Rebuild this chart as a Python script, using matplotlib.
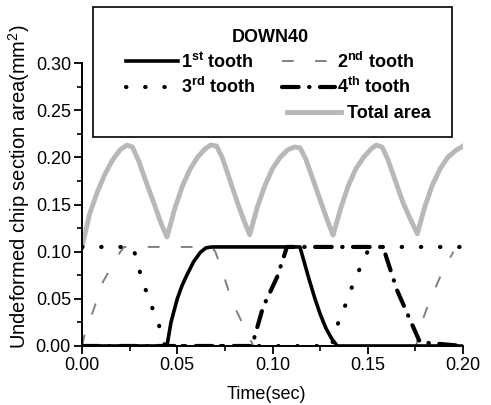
import matplotlib
matplotlib.use("Agg")
import matplotlib.pyplot as plt
from matplotlib.patches import Rectangle
from matplotlib.ticker import MultipleLocator

plt.rcParams['font.family'] = ['Liberation Sans', 'DejaVu Sans']
plt.rcParams['mathtext.fontset'] = 'custom'
plt.rcParams['mathtext.rm'] = 'Liberation Sans'
plt.rcParams['mathtext.bf'] = 'Liberation Sans:bold'

# values (time in sec, area in mm^2)
tooth1_t = [0.000, 0.0446, 0.0467, 0.0500, 0.0525, 0.0550, 0.0585, 0.0620, 0.0650, 0.0680,
            0.1144, 0.1165, 0.1190, 0.1223, 0.1250, 0.1280, 0.1310, 0.1340, 0.2000]
tooth1_v = [0.0, 0.0, 0.025, 0.050, 0.064, 0.075, 0.089, 0.099, 0.104, 0.105,
            0.105, 0.090, 0.072, 0.050, 0.034, 0.019, 0.008, 0.0, 0.0]

tooth2_t = [0.000, 0.0016, 0.006, 0.011, 0.019, 0.022, 0.068, 0.070, 0.074, 0.079, 0.0866, 0.090,
            0.1755, 0.1774, 0.1827, 0.1895, 0.1950]
tooth2_v = [0.0, 0.014, 0.038, 0.068, 0.0965, 0.105, 0.105, 0.100, 0.077, 0.046, 0.014, 0.0,
            0.0, 0.020, 0.049, 0.080, 0.100]

tooth3_t = [0.000, 0.0268, 0.030, 0.0331, 0.0368, 0.0404, 0.0436, 0.131, 0.134, 0.138, 0.1417,
            0.146, 0.151, 0.200]
tooth3_v = [0.105, 0.105, 0.081, 0.0615, 0.041, 0.022, 0.0, 0.0, 0.022, 0.042, 0.0625,
            0.083, 0.105, 0.105]

tooth4_t = [0.000, 0.0892, 0.095, 0.1024, 0.1076, 0.158, 0.1654, 0.1706, 0.1774, 0.200]
tooth4_v = [0.0, 0.0, 0.041, 0.073, 0.105, 0.105, 0.059, 0.035, 0.004, 0.0]

total_t = [0.000, 0.004, 0.008, 0.012, 0.016, 0.020, 0.0235, 0.0265, 0.030, 0.034, 0.038, 0.0415, 0.0446,
           0.0486, 0.0526, 0.0566, 0.0606, 0.0646, 0.0676, 0.0706, 0.0736, 0.0776, 0.0816, 0.0850, 0.0880,
           0.0920, 0.0960, 0.1000, 0.1040, 0.1080, 0.1115, 0.1145, 0.1175, 0.1215, 0.1255, 0.1290, 0.1318,
           0.1358, 0.1398, 0.1438, 0.1478, 0.1518, 0.1545, 0.1575, 0.1605, 0.1645, 0.1685, 0.1725, 0.1760,
           0.1800, 0.1840, 0.1880, 0.1920, 0.1960, 0.2000]
total_v = [0.105, 0.140, 0.163, 0.182, 0.197, 0.208, 0.213, 0.211, 0.195, 0.172, 0.150, 0.130, 0.1155,
           0.145, 0.169, 0.187, 0.200, 0.209, 0.213, 0.212, 0.200, 0.176, 0.152, 0.133, 0.118,
           0.147, 0.170, 0.188, 0.200, 0.208, 0.211, 0.210, 0.198, 0.175, 0.152, 0.132, 0.1175,
           0.146, 0.170, 0.188, 0.200, 0.209, 0.213, 0.211, 0.198, 0.175, 0.152, 0.134, 0.119,
           0.148, 0.171, 0.188, 0.200, 0.207, 0.212]

labels = [r'1$^{\mathbf{st}}$ tooth', r'2$^{\mathbf{nd}}$ tooth',
          r'3$^{\mathbf{rd}}$ tooth', r'4$^{\mathbf{th}}$ tooth', 'Total area']
legend_title = 'DOWN40'

fig = plt.figure(figsize=(4.91, 4.05), dpi=100)
ax = fig.add_axes([0.167, 0.1457, 0.776, 0.6987])

l_tot, = ax.plot(total_t, total_v, color='#b8b8b8', lw=3.5, zorder=1)
l2, = ax.plot(tooth2_t, tooth2_v, color='#808080', lw=1.4, dashes=(6, 11), zorder=2)
l3, = ax.plot(tooth3_t, tooth3_v, color='black', lw=3, dashes=(0.1, 4.5),
              dash_capstyle='round', zorder=3)
l4, = ax.plot(tooth4_t, tooth4_v, color='black', lw=3, dashes=(4, 2.5, 0.1, 2.5),
              dash_capstyle='round', zorder=3)
l1, = ax.plot(tooth1_t, tooth1_v, color='black', lw=2.6, zorder=4)

ax.set_xlim(0, 0.2)
ax.set_ylim(0, 0.3)
ax.xaxis.set_major_locator(MultipleLocator(0.05))
ax.xaxis.set_minor_locator(MultipleLocator(0.025))
ax.yaxis.set_major_locator(MultipleLocator(0.05))
ax.yaxis.set_minor_locator(MultipleLocator(0.025))
ax.xaxis.set_major_formatter(plt.FormatStrFormatter('%.2f'))
ax.yaxis.set_major_formatter(plt.FormatStrFormatter('%.2f'))
ax.tick_params(which='major', direction='out', length=6, width=1.3, labelsize=13, pad=2)
ax.tick_params(which='minor', direction='out', length=3.5, width=1.2)
for s in ['top', 'right']:
    ax.spines[s].set_visible(False)
for s in ['left', 'bottom']:
    ax.spines[s].set_linewidth(1.4)

ax.set_xlabel('Time(sec)', fontsize=13)
ax.set_ylabel(r'Undeformed chip section area(mm$^2$)', fontsize=14.5)
ax.xaxis.set_label_coords(0.483, -0.14)
ax.yaxis.set_label_coords(-0.13, 0.562)

box = Rectangle((0.029, 0.7385), 0.942, 0.459, transform=ax.transAxes,
                facecolor='none', edgecolor='black', lw=1.2, clip_on=False, zorder=5)
ax.add_patch(box)

# column-wise fill, so order is 1st, 3rd | 2nd, 4th
leg1 = ax.legend([l1, l3, l2, l4], [labels[0], labels[2], labels[1], labels[3]],
                 ncol=2, loc='upper left',
                 bbox_to_anchor=(0.1155, 1.12), frameon=False, borderpad=0, borderaxespad=0,
                 handlelength=2.9, handletextpad=0.15, columnspacing=1.5, labelspacing=0.3,
                 title=legend_title, prop={'weight': 'bold', 'size': 13},
                 title_fontproperties={'weight': 'bold', 'size': 13})
ax.add_artist(leg1)
ax.legend([l_tot], labels[4:], loc='center left', bbox_to_anchor=(0.538, 0.822),
          frameon=False, borderpad=0, borderaxespad=0, handlelength=3.0, handletextpad=0.3,
          prop={'weight': 'bold', 'size': 13})

fig.savefig('out.png', dpi=100)
